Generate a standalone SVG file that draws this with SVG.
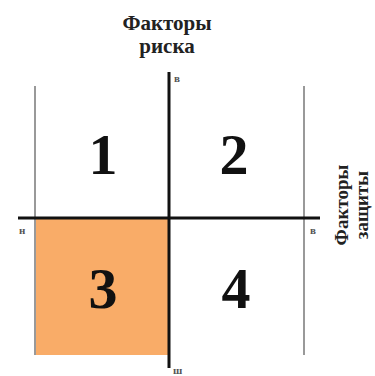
<svg xmlns="http://www.w3.org/2000/svg" width="375" height="376" viewBox="0 0 375 376">
<style>
.title{font-family:"Liberation Serif","DejaVu Serif",serif;font-weight:bold;font-size:21px;fill:#222;text-anchor:middle}
.side{font-family:"Liberation Serif","DejaVu Serif",serif;font-weight:bold;font-size:19px;fill:#222;text-anchor:middle}
.num{font-family:"Liberation Serif","DejaVu Serif",serif;font-weight:bold;font-size:58px;fill:#111;text-anchor:middle}
.lbl{font-family:"Liberation Serif","DejaVu Serif",serif;font-weight:bold;font-size:11px;fill:#555}
.thin{stroke:#999;stroke-width:2;fill:none}
.axis{stroke:#111;stroke-width:3;fill:none}
</style>
<rect width="375" height="376" fill="#fff"/>
<g id="quadrant3"><rect x="35" y="218" width="134" height="137" fill="#F9AC68"/><text class="num" x="103" y="308">3</text></g>
<g id="quadrant1"><text class="num" x="103" y="174">1</text></g>
<g id="quadrant2"><text class="num" x="234" y="174">2</text></g>
<g id="quadrant4"><text class="num" x="236" y="308">4</text></g>
<g id="connectors">
<line class="thin" x1="35" y1="86" x2="35" y2="355"/>
<line class="thin" x1="304" y1="86" x2="304" y2="355"/>
<line class="axis" x1="169" y1="72" x2="169" y2="368"/>
<line class="axis" x1="18" y1="218" x2="320" y2="218"/>
</g>
<g id="labels">
<text class="title" x="167" y="30">Факторы</text>
<text class="title" x="167" y="53">риска</text>
<text class="lbl" x="174" y="82">в</text>
<text class="lbl" x="173" y="374">ш</text>
<text class="lbl" x="19" y="234">н</text>
<text class="lbl" x="310" y="234">в</text>
<text class="side" transform="translate(348,205) rotate(-90)">Факторы</text>
<text class="side" transform="translate(368,205) rotate(-90)">защиты</text>
</g>
</svg>
